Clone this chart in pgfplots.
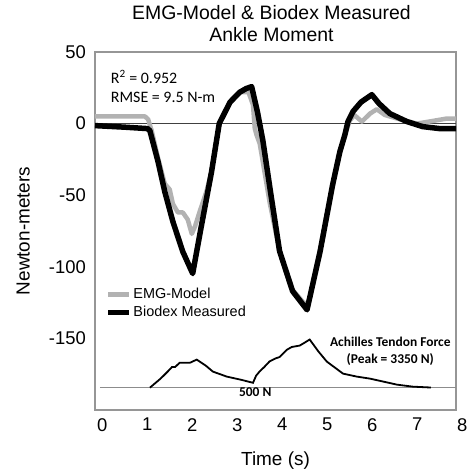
\documentclass[border=0pt]{standalone}
\usepackage{fontspec}
\setmainfont{Liberation Sans}
\newfontfamily\calib{Carlito}
\usepackage{pgfplots}
\pgfplotsset{compat=1.18}

\definecolor{emggray}{RGB}{178,178,178}
\definecolor{framegray}{RGB}{150,150,150}

\begin{document}
\begin{tikzpicture}
\begin{axis}[
    scale only axis,
    width=361bp, height=358bp,
    xmin=-0.16, xmax=7.86, ymin=-200, ymax=50,
    xtick={0,1,...,7}, ytick={-150,-100,-50,0,50},
    major tick length=0pt,
    axis line style={draw=framegray, line width=1.2bp},
    /pgf/number format/assume math mode=true,
    tick label style={font=\fontsize{18.5}{20}\selectfont, inner sep=0pt},
    yticklabel style={xshift=-9bp},
    xticklabel style={yshift=-8bp},
    title={EMG-Model \& Biodex Measured\\Ankle Moment},
    title style={font=\fontsize{19.5}{22}\selectfont, align=center,
        at={(axis description cs:0.5,1)}, anchor=south, inner sep=0pt, yshift=4bp, xshift=-4bp},
    xlabel={Time (s)},
    xlabel style={font=\fontsize{19}{22}\selectfont, at={(axis description cs:0.5,-0.117)}, anchor=north, inner sep=0pt},
    ylabel={Newton-meters},
    ylabel style={font=\fontsize{19}{22}\selectfont, at={(axis description cs:-0.18,0.5)}, anchor=south, inner sep=0pt},
    clip mode=individual,
    legend image code/.code={\draw[#1] (0bp,0bp) -- (21bp,0bp);},
    legend cell align=left,
    legend style={draw=none, fill=none, font=\fontsize{14.5}{17}\selectfont,
        at={(axis description cs:0.02,0.35)}, anchor=north west,
        row sep=3bp, nodes={inner sep=1.5bp}},
]
% zero line
\addplot[forget plot, black!75, line width=0.8bp] coordinates {(-0.16,0) (7.86,0)};

% Achilles tendon force trace (drawn in moment-axis units)
\addplot[forget plot, black!45, line width=0.9bp] coordinates {
(-0.05,-184.4) (1.06,-184.4) (7.86,-184.4)};
\addplot[forget plot, black, line width=1.8bp] coordinates {
(1.06,-184.4) (1.30,-178) (1.46,-173) (1.55,-170) (1.62,-170) (1.72,-167)
(1.95,-167) (2.10,-164.8) (2.30,-169) (2.46,-173.2) (2.77,-176.7) (3.10,-179)
(3.35,-181) (3.42,-176) (3.50,-173) (3.60,-170) (3.72,-166) (3.85,-164)
(3.94,-163) (4.10,-158) (4.21,-156) (4.39,-155) (4.61,-150.8) (4.80,-159)
(4.99,-166.2) (5.35,-174.6) (5.66,-176.7) (5.95,-178.1) (6.55,-182.3)
(6.90,-183.7) (7.30,-184.3)};

% EMG-Model
\addplot[emggray, line width=4.5bp, line join=round] coordinates {
(-0.16,5) (0.95,5) (1.02,3) (1.10,-5) (1.24,-24) (1.39,-42) (1.50,-46)
(1.57,-56) (1.68,-62) (1.79,-62) (1.90,-67) (1.99,-77) (2.06,-72) (2.17,-61)
(2.32,-47) (2.43,-33) (2.60,0) (2.84,15) (3.06,22) (3.25,22) (3.35,13)
(3.39,-3.5) (3.43,-8) (3.50,-14) (3.72,-55) (3.94,-89) (4.20,-115)
(4.50,-126) (4.60,-124) (4.84,-88) (5.12,-42) (5.28,-20) (5.39,-8) (5.50,2)
(5.60,6) (5.77,1.4) (5.95,7) (6.10,10) (6.28,6) (6.61,3) (6.99,0) (7.28,1.5)
(7.65,3.5) (7.86,3.5)};
\addlegendentry{EMG-Model}

% Biodex measured
\addplot[black, line width=5.5bp, line join=round] coordinates {
(-0.16,-1.4) (0.50,-2.5) (1.01,-3.5) (1.06,-5) (1.24,-26.5) (1.39,-47.5)
(1.57,-68.4) (1.79,-89.4) (2.01,-104.7) (2.20,-72) (2.43,-33.5) (2.60,0)
(2.84,15) (3.06,22) (3.20,24.5) (3.32,25.8) (3.45,8) (3.57,-12) (3.75,-50)
(3.94,-89) (4.23,-117) (4.55,-130) (4.84,-89.4) (5.12,-42.6) (5.28,-19.6)
(5.39,-8) (5.46,1.4) (5.57,8.4) (5.75,15) (5.99,20.2) (6.15,14) (6.39,7)
(6.77,1.4) (7.12,-2.1) (7.50,-3.5) (7.86,-3.5)};
\addlegendentry{Biodex Measured}

\node[anchor=base west, inner sep=0pt, font=\calib\fontsize{16}{19}\selectfont] at (axis cs:0.19,27.9) {R\textsuperscript{2} = 0.952};
\node[anchor=base west, inner sep=0pt, font=\calib\fontsize{16}{19}\selectfont] at (axis cs:0.19,14.7) {RMSE = 9.5 N-m};
\node[anchor=base, inner sep=0pt, font=\calib\bfseries\fontsize{13.5}{17}\selectfont] at (axis cs:6.40,-155.7) {Achilles Tendon Force};
\node[anchor=base, inner sep=0pt, font=\calib\bfseries\fontsize{13.5}{17}\selectfont] at (axis cs:6.40,-167.6) {(Peak = 3350 N)};
\node[anchor=base, inner sep=0pt, font=\calib\bfseries\fontsize{13.5}{17}\selectfont] at (axis cs:3.40,-190.6) {500 N};
\node[anchor=north, inner sep=0pt, yshift=-8bp, font=\fontsize{18.5}{20}\selectfont] at (axis cs:8,-200) {8};
\end{axis}
\pgfresetboundingbox
\path[use as bounding box] ([shift={(-95bp,-66bp)}]current axis.south west) rectangle ([shift={(15bp,52bp)}]current axis.north east);
\end{tikzpicture}
\end{document}
